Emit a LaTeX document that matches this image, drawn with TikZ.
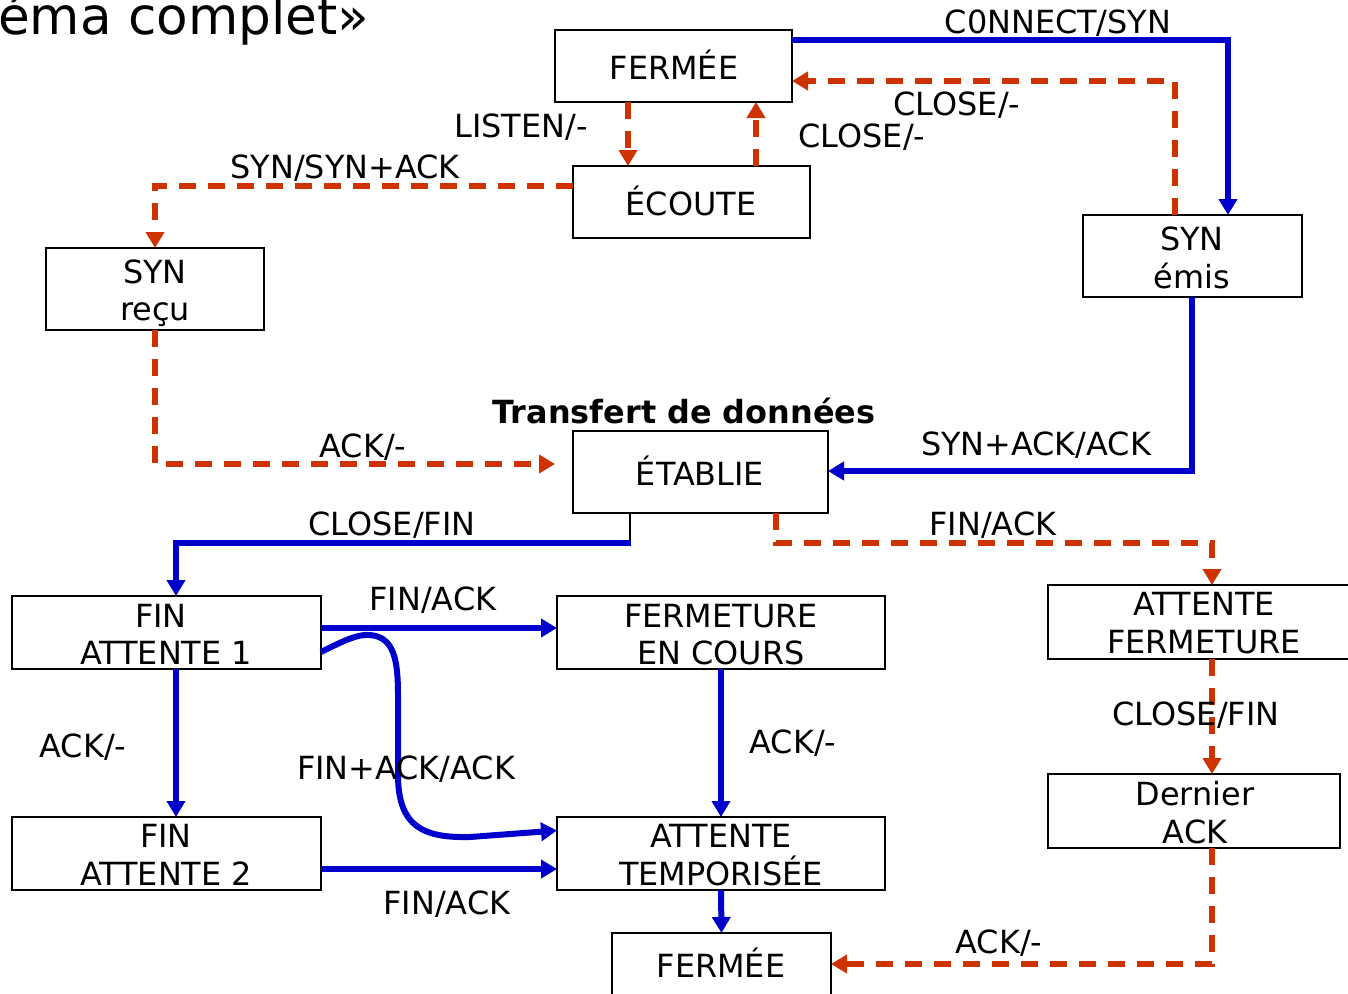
\documentclass[tikz,border=0pt]{standalone}
\usepackage{fontspec}
\setmainfont{DejaVu Sans}
\usetikzlibrary{arrows.meta,calc}
\definecolor{lblue}{RGB}{0,0,204}
\definecolor{lred}{RGB}{204,51,0}
\tikzset{
  statebox/.style={draw=black,line width=2.5pt,rectangle,inner sep=0pt,outer sep=0pt},
  txt/.style={anchor=base,inner sep=0pt,font=\fontsize{31.9}{38}\selectfont},
  bluearrow/.style={draw=lblue,line width=6pt,-{Triangle[length=16pt,width=18pt]}},
  blueline/.style={draw=lblue,line width=6pt},
  redarrow/.style={draw=lred,line width=6pt,dash pattern=on 17pt off 12pt,-{Triangle[length=16pt,width=18pt]}},
}
\begin{document}
\begin{tikzpicture}[x=1pt,y=-1pt]
\useasboundingbox (0,0) rectangle (1348,993);
% title fragment
\node[anchor=base west,inner sep=0pt,font=\fontsize{51.6}{60}\selectfont] (title) at (-2,34) {éma complet»};
% boxes
\node[statebox,minimum width=237pt,minimum height=72pt] (f1) at (673.5,66) {};
\node[statebox,minimum width=237pt,minimum height=72pt] (ec) at (691.5,202) {};
\node[statebox,minimum width=219pt,minimum height=82pt] (se) at (1192.5,256) {};
\node[statebox,minimum width=218pt,minimum height=82pt] (sr) at (155,289) {};
\node[statebox,minimum width=255pt,minimum height=82pt] (et) at (700.5,472) {};
\node[statebox,minimum width=309pt,minimum height=73pt] (fa1) at (166.5,632.5) {};
\node[statebox,minimum width=328pt,minimum height=73pt] (fc) at (721,632.5) {};
\node[statebox,minimum width=302pt,minimum height=74pt] (af) at (1199,622) {};
\node[statebox,minimum width=292pt,minimum height=74pt] (da) at (1194,811) {};
\node[statebox,minimum width=309pt,minimum height=73pt] (fa2) at (166.5,853.5) {};
\node[statebox,minimum width=328pt,minimum height=73pt] (at) at (721,853.5) {};
\node[statebox,minimum width=219pt,minimum height=70pt] (f2) at (721.5,968) {};
% box texts
\node[txt] (tf1) at (674,79) {FERMÉE};
\node[txt] (tec) at (691,215) {ÉCOUTE};
\node[txt] (tse1) at (1192,250) {SYN};
\node[txt] (tse2) at (1192,288) {émis};
\node[txt] (tsr1) at (155,283) {SYN};
\node[txt] (tsr2) at (155,320) {reçu};
\node[txt,font=\fontsize{31.9}{38}\selectfont\bfseries] (ttr) at (684,423) {Transfert de données};
\node[txt] (tet) at (700,485) {ÉTABLIE};
\node[txt] (tfa11) at (161,627) {FIN};
\node[txt] (tfa12) at (166,664) {ATTENTE 1};
\node[txt] (tfc1) at (721,627) {FERMETURE};
\node[txt] (tfc2) at (721,664) {EN COURS};
\node[txt] (taf1) at (1204,615) {ATTENTE};
\node[txt] (taf2) at (1204,653) {FERMETURE};
\node[txt] (tda1) at (1195,805) {Dernier};
\node[txt] (tda2) at (1195,843) {ACK};
\node[txt] (tfa21) at (166,847) {FIN};
\node[txt] (tfa22) at (166,885) {ATTENTE 2};
\node[txt] (tat1) at (721,847) {ATTENTE};
\node[txt] (tat2) at (721,885) {TEMPORISÉE};
\node[txt] (tf2) at (721,977) {FERMÉE};
% connectors
\draw[bluearrow] ($(f1.north east)+(0,10)$) -| ($(se.north)+(35.5,0)$);
\draw[redarrow] ($(se.north)+(-17.5,0)$) |- ($(f1.east)+(0,15)$);
\draw[redarrow] ($(f1.south)+(-45.5,0)$) -- ($(ec.north)+(-63.5,0)$);
\draw[redarrow] ($(ec.north)+(64.5,0)$) -- ($(f1.south)+(82.5,0)$);
\draw[redarrow] ($(ec.west)+(0,-16)$) -| (sr.north);
\draw[redarrow] (sr.south) |- ($(et.west)+(-18,-8)$);
\draw[bluearrow] ($(se.south)+(-0.5,0)$) |- ($(et.east)+(0,-1)$);
\coordinate (c8) at ($(et.south)+(-70.5,30)$);
\draw[black,line width=2pt] ($(et.south)+(-70.5,0)$) -- (c8);
\draw[bluearrow] ($(c8)+(1,0)$) -| ($(fa1.north)+(9.5,0)$);
\draw[redarrow] ($(et.south)+(75.5,0)$) -- ++(0,30) -| ($(af.north)+(13,0)$);
\draw[bluearrow] ($(fa1.east)+(0,-4.5)$) -- ($(fc.west)+(0,-4.5)$);
\draw[bluearrow] ($(fa1.east)+(0,19.5)$) .. controls (345,640) and (358,634) .. (370,635) .. controls (394,637) and (398,660) .. (398,695) -- (398,775) .. controls (398,828) and (425,838) .. (470,837) -- ($(at.west)+(0,-23)$);
\draw[bluearrow] ($(fa1.south)+(9.5,0)$) -- ($(fa2.north)+(9.5,0)$);
\draw[bluearrow] (fc.south) -- (at.north);
\draw[bluearrow] ($(fa2.east)+(0,15.5)$) -- ($(at.west)+(0,15.5)$);
\draw[bluearrow] (at.south) -- (f2.north);
\draw[redarrow] ($(af.south)+(13,0)$) -- ($(da.north)+(18,0)$);
\draw[redarrow] ($(da.south)+(18,0)$) |- ($(f2.east)+(0,-4)$);
% labels
\node[txt] (l1) at (1058,33) {C0NNECT/SYN};
\node[txt] (l2) at (957,115) {CLOSE/-};
\node[txt] (l3) at (862,147) {CLOSE/-};
\node[txt] (l4) at (521,137) {LISTEN/-};
\node[txt] (l5) at (345,178) {SYN/SYN+ACK};
\node[txt] (l6) at (363,457) {ACK/-};
\node[txt] (l7) at (1036,455) {SYN+ACK/ACK};
\node[txt] (l8) at (392,535) {CLOSE/FIN};
\node[txt] (l9) at (993,535) {FIN/ACK};
\node[txt] (l10) at (433,610) {FIN/ACK};
\node[txt] (l11) at (406,779) {FIN+ACK/ACK};
\node[txt] (l12) at (83,757) {ACK/-};
\node[txt] (l13) at (793,753) {ACK/-};
\node[txt] (l14) at (447,914) {FIN/ACK};
\node[txt] (l15) at (1196,725) {CLOSE/FIN};
\node[txt] (l16) at (999,953) {ACK/-};
\end{tikzpicture}
\end{document}
